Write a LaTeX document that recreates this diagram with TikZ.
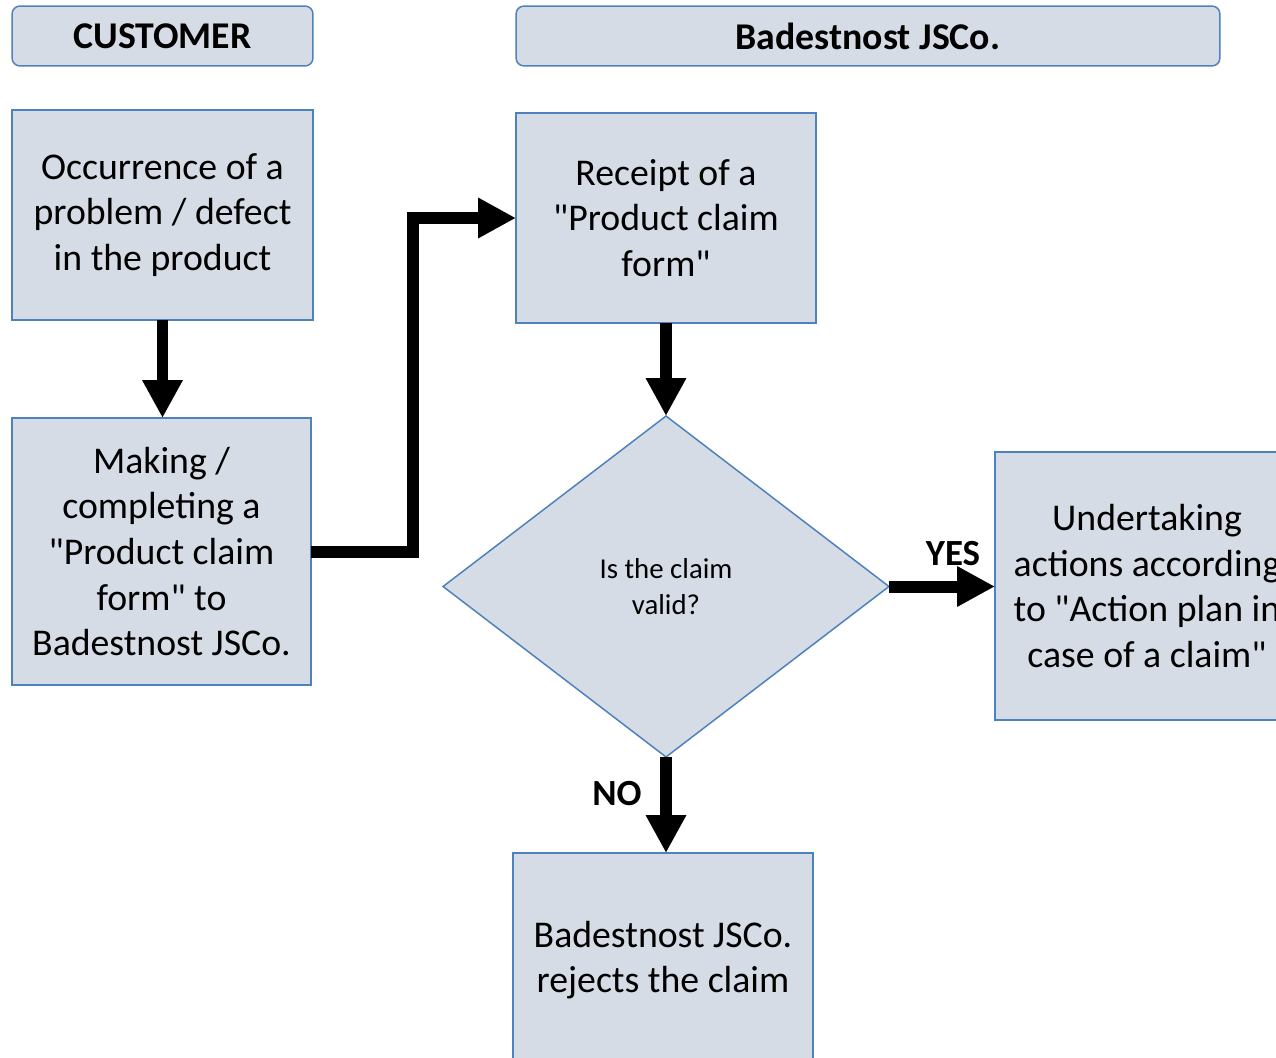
\documentclass[tikz,border=0pt]{standalone}
\usepackage{fontspec}
\setmainfont{Carlito}[Ligatures=TeXReset]
\usetikzlibrary{positioning,shapes.geometric,arrows.meta}
\definecolor{boxfill}{RGB}{214,220,229}
\definecolor{boxline}{RGB}{79,129,189}
\tikzset{
	box/.style={draw=boxline, fill=boxfill, line width=0.03cm, inner sep=0pt, outer sep=0pt, align=center, font=\fontsize{21.5}{26}\selectfont},
	head/.style={box, rounded corners=0.16cm, minimum width=#1, minimum height=1.2cm, font=\fontsize{21.5}{26}\selectfont\bfseries},
	test/.style={box, diamond, minimum width=8.92cm, minimum height=6.82cm, font=\fontsize{16.4}{20.4}\selectfont},
	flow/.style={line width=0.24cm, -{Triangle[length=0.76cm, width=0.76cm]}},
	lbl/.style={font=\fontsize{21}{25}\selectfont\bfseries}
}

\begin{document}
\begin{tikzpicture}[x=0.02cm, y=-0.02cm]
	\useasboundingbox (0,0) rectangle (1276,1058);
	\node[head=6.02cm] (cust) at (162.5,36) {CUSTOMER};
	\node[head=14.08cm] (firm) at (868,36) {Badestnost JSCo.};
	\node[box, minimum width=6.02cm, minimum height=4.2cm] (occur) at (162.5,215) {Occurrence of a\\problem / defect\\in the product};
	\node[box, minimum width=5.98cm, minimum height=5.34cm] (make) at (161.5,551.5) {Making /\\completing a\\"Product claim\\form" to\\Badestnost JSCo.};
	\node[box, minimum width=6.0cm, minimum height=4.2cm] (receipt) at (666,218) {Receipt of a\\"Product claim\\form"};
	\node[test] (valid) at (666,586.5) {Is the claim\\valid?};
	\node[box, minimum width=6.08cm, minimum height=5.36cm] (act) at (1147,586) {Undertaking\\actions according\\to "Action plan in\\case of a claim"};
	\node[box, minimum width=6.0cm, minimum height=4.28cm] (reject) at (663,960) {Badestnost JSCo.\\rejects the claim};
	\node[lbl] (yes) at (953,554) {YES};
	\node[lbl] (no) at (617,794) {NO};
	\coordinate (bend) at (413,400);
	\draw[flow] (occur.south) -- (occur.south |- make.north);
	\draw[flow] (make.east) -| (bend) |- (receipt.west);
	\draw[flow] (receipt.south) -- (valid.north);
	\draw[flow] (valid.east) -- (valid.east -| act.west);
	\draw[flow] (valid.south) -- (valid.south |- reject.north);
\end{tikzpicture}
\end{document}
